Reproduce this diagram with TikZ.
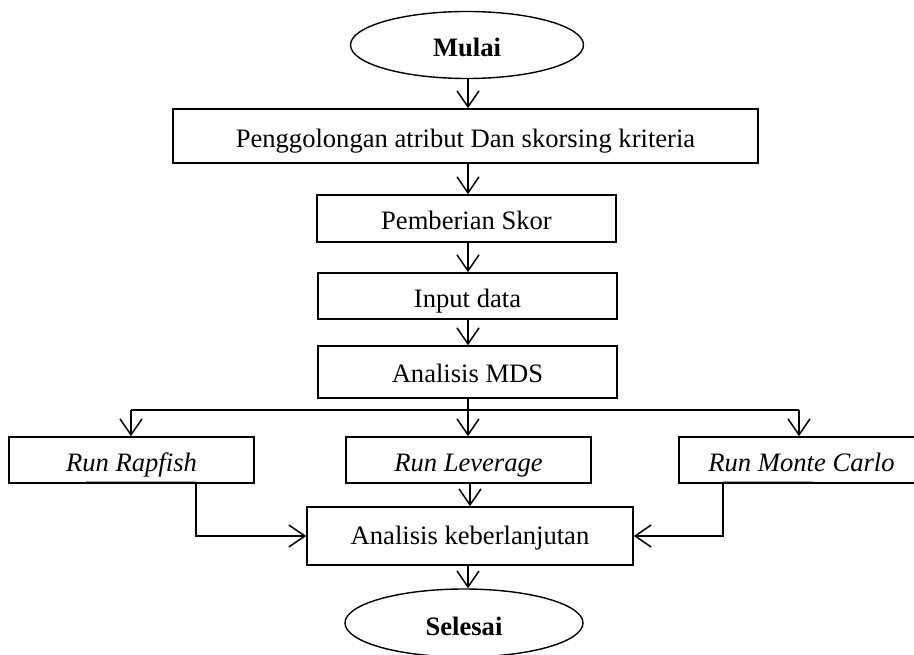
\documentclass[tikz,border=0pt]{standalone}
\usepackage{fontspec}
\setmainfont{Liberation Serif}
\usetikzlibrary{shapes.geometric,arrows.meta}
\tikzset{
  txt/.style={font=\fontsize{26.6}{30}\selectfont, text height=23pt, text depth=0pt},
  box/.style={draw, line width=1.6pt, rectangle, inner sep=0pt, txt},
  term/.style={draw, line width=1.4pt, ellipse, inner sep=0pt, txt, font=\fontsize{26.6}{30}\selectfont\bfseries},
  itbox/.style={box, font=\fontsize{26.6}{30}\selectfont\itshape},
  conn/.style={line width=1.8pt},
  arr/.style={conn, -{Straight Barb[length=16pt,width=22pt,line width=1.5pt]}},
  ghost/.style={draw=gray!70, line width=1.4pt}
}
\begin{document}
\begin{tikzpicture}[x=1pt,y=-1pt]
\clip (0,0) rectangle (914,655);
\fill[white] (0,0) rectangle (914,655);
\node[term, minimum width=233pt, minimum height=67pt] (mulai) at (467,45) {Mulai};
\node[box, minimum width=585pt, minimum height=54pt] (b1) at (465.5,136) {Penggolongan atribut Dan skorsing kriteria};
\node[box, minimum width=299pt, minimum height=47pt] (b2) at (466.5,218.5) {Pemberian Skor};
\node[box, minimum width=299pt, minimum height=46pt] (b3) at (467.5,296) {Input data};
\node[box, minimum width=299pt, minimum height=52pt, text height=20pt] (b4) at (467.5,372) {Analisis MDS};
\node[itbox, minimum width=245pt, minimum height=46pt] (r1) at (131.5,460) {Run Rapfish};
\node[itbox, minimum width=245pt, minimum height=46pt] (r2) at (468.5,460) {Run Leverage};
\node[itbox, minimum width=245pt, minimum height=46pt] (r3) at (801.5,460) {Run Monte Carlo};
\node[box, minimum width=326pt, minimum height=58pt, text height=16pt] (k) at (470,536) {Analisis keberlanjutan};
\node[term, minimum width=238pt, minimum height=68pt, text height=25pt] (selesai) at (464,623) {Selesai};

\coordinate (split) at (468,410);
\coordinate (sl) at (131,410);
\coordinate (sr) at (799,410);
\coordinate (cl) at (196,483);
\coordinate (cr) at (723,483);

\draw[arr] (mulai.south -| 468,0) -- (b1.north -| 468,0);
\draw[arr] (b1.south -| 468,0) -- (b2.north -| 468,0);
\draw[arr] (b2.south -| 468,0) -- (b3.north -| 468,0);
\draw[arr] (b3.south -| 468,0) -- (b4.north -| 468,0);
\draw[conn] (b4.south -| split) -- (split);
\draw[conn] (sl) -- (sr);
\draw[arr] (split) -- (r2.north -| split);
\draw[arr] (sl) -- (r1.north -| sl);
\draw[arr] (sr) -- (r3.north -| sr);
\draw[arr] (r2.south -| 470,0) -- (k.north -| 470,0);
\draw[arr] (cl) |- (k.west);
\draw[arr] (cr) |- (k.east);
\draw[arr] (k.south -| 468,0) -- (selesai.north -| 468,0);
\draw[ghost] (86,481.5) -- (196,481.5);
\draw[ghost] (723,481.5) -- (813,481.5);
\end{tikzpicture}
\end{document}
